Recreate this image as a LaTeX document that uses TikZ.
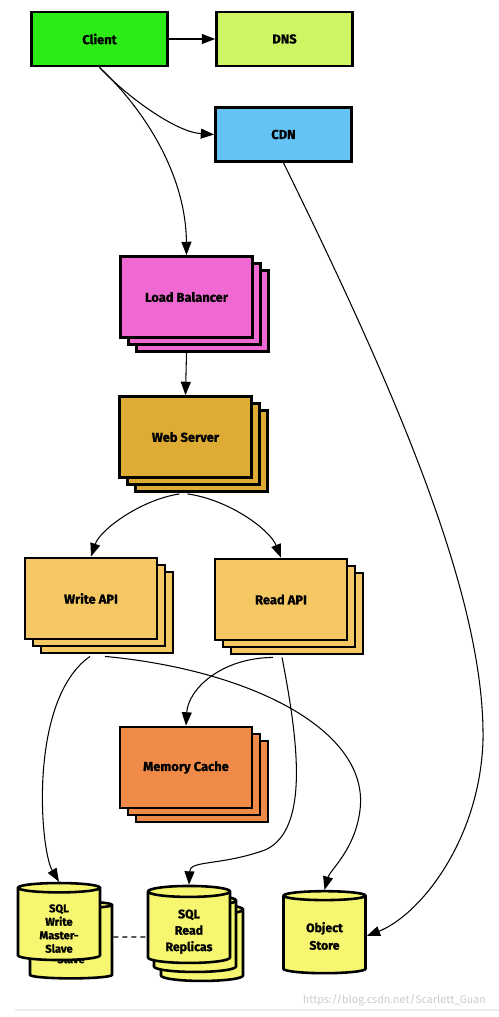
\documentclass[tikz,border=0pt]{standalone}
\usepackage{fontspec}
\setmainfont{Fira Sans}[BoldFeatures={FakeBold=1.2}]
\usetikzlibrary{arrows.meta,shapes.geometric,shadows,calc}

\definecolor{clientgreen}{RGB}{45,235,20}
\definecolor{dnslime}{RGB}{205,245,100}
\definecolor{cdnblue}{RGB}{100,195,245}
\definecolor{lbpink}{RGB}{240,105,210}
\definecolor{webgold}{RGB}{222,172,52}
\definecolor{apiorange}{RGB}{246,200,100}
\definecolor{cacheorange}{RGB}{240,138,72}
\definecolor{dbyellow}{RGB}{246,246,112}

\begin{document}
\begin{tikzpicture}[x=0.3mm, y=-0.3mm,
  archbox/.style={draw=black, line width=2.4pt, minimum width=39.6mm, minimum height=24.3mm,
    align=center, font=\bfseries\fontsize{11}{13}\selectfont},
  smallbox/.style={archbox, minimum width=40.8mm, minimum height=16.2mm},
  stackbox/.style={archbox,
    copy shadow={shadow xshift=4.8mm, shadow yshift=-4.2mm},
    copy shadow={shadow xshift=2.4mm, shadow yshift=-2.1mm}},
  dbcyl/.style={cylinder, shape border rotate=90, aspect=0.2, draw=black, line width=2.2pt,
    fill=dbyellow, minimum width=24.6mm, minimum height=23.1mm, align=center},
  flowarrow/.style={-{Triangle[length=4mm, width=3mm]}, line width=0.9pt}
]
\useasboundingbox (0,0) rectangle (499,1017);

\node[smallbox, fill=clientgreen] (client) at (99.5,39) {Client};
\node[smallbox, fill=dnslime] (dns) at (284.5,39) {DNS};
\node[smallbox, fill=cdnblue] (cdn) at (283.5,134.5) {CDN};
\node[stackbox, fill=lbpink] (lb) at (186.5,297) {Load Balancer};
\node[stackbox, fill=webgold] (web) at (185.5,437) {Web Server};
\node[stackbox, fill=apiorange] (writeapi) at (91,598.5) {Write API};
\node[stackbox, fill=apiorange] (readapi) at (281,599.5) {Read API};
\node[stackbox, fill=cacheorange] (cache) at (186,767.5) {Memory Cache};

% databases
\node[dbcyl, font=\bfseries\fontsize{9.5}{11.5}\selectfont] (sqlwriteb) at (71,943) {\\ \\ \\Slave};
\node[dbcyl, font=\bfseries\fontsize{9.5}{11.5}\selectfont] (sqlwrite) at (59,925.5) {\\[0.5pt]SQL\\Write\\Master-\\Slave};
\node[dbcyl, font=\bfseries\fontsize{10.5}{14}\selectfont,
  copy shadow={shadow xshift=3.9mm, shadow yshift=-5.4mm},
  copy shadow={shadow xshift=1.8mm, shadow yshift=-2.7mm}] (sqlread) at (189,929) {\\[-2pt]SQL\\Read\\Replicas};
\node[dbcyl, minimum height=24.6mm, font=\bfseries\fontsize{10.5}{15}\selectfont] (objstore) at (324.5,936) {\\[-6.5pt]Object\\Store};

\draw[flowarrow] (client.east) -- (dns.west);
\draw[flowarrow] (client.south) .. controls (125,95) and (175,132) .. (cdn.west);
\draw[flowarrow] (client.south) .. controls (150,115) and (186,180) .. (lb.north);
\draw[flowarrow] (cdn.south) .. controls (400,400) and (485,600) .. (483,740)
  .. controls (480,840) and (420,915) .. (objstore.east);
\draw[flowarrow] ($(lb.south)+(0,14)$) -- (web.north);
\draw[flowarrow] ($(web.south)+(-6,15)$) .. controls (140,500) and (100,530) .. (writeapi.north);
\draw[flowarrow] ($(web.south)+(2,15)$) .. controls (230,500) and (270,530) .. (readapi.north);
\draw[flowarrow] ($(writeapi.south)+(-1,16)$) .. controls (28,700) and (40,850) .. (sqlwrite.north);
\draw[flowarrow] ($(writeapi.south)+(14,16)$) .. controls (250,670) and (370,730) .. (360,810)
  .. controls (355,850) and (330,870) .. (objstore.north);
\draw[flowarrow] ($(readapi.south)+(-8,16)$) .. controls (220,658) and (188,690) .. (cache.north);
\draw[flowarrow] ($(readapi.south)+(1,16)$) .. controls (298,740) and (310,830) .. (265,850)
  .. controls (220,866) and (190,860) .. (sqlread.north);
\draw[line width=0.9pt, dash pattern=on 1.5mm off 1.2mm] ($(sqlwriteb.east)+(0,-6)$) -- ($(sqlread.west)+(0,8)$);

\node[text=black!20, anchor=east, font=\fontsize{9.5}{11}\selectfont] (mark) at (490,1000) {https://blog.csdn.net/Scarlett\_Guan};
\draw[black!8, line width=1pt] (15,1010) -- (499,1010);
\end{tikzpicture}
\end{document}
